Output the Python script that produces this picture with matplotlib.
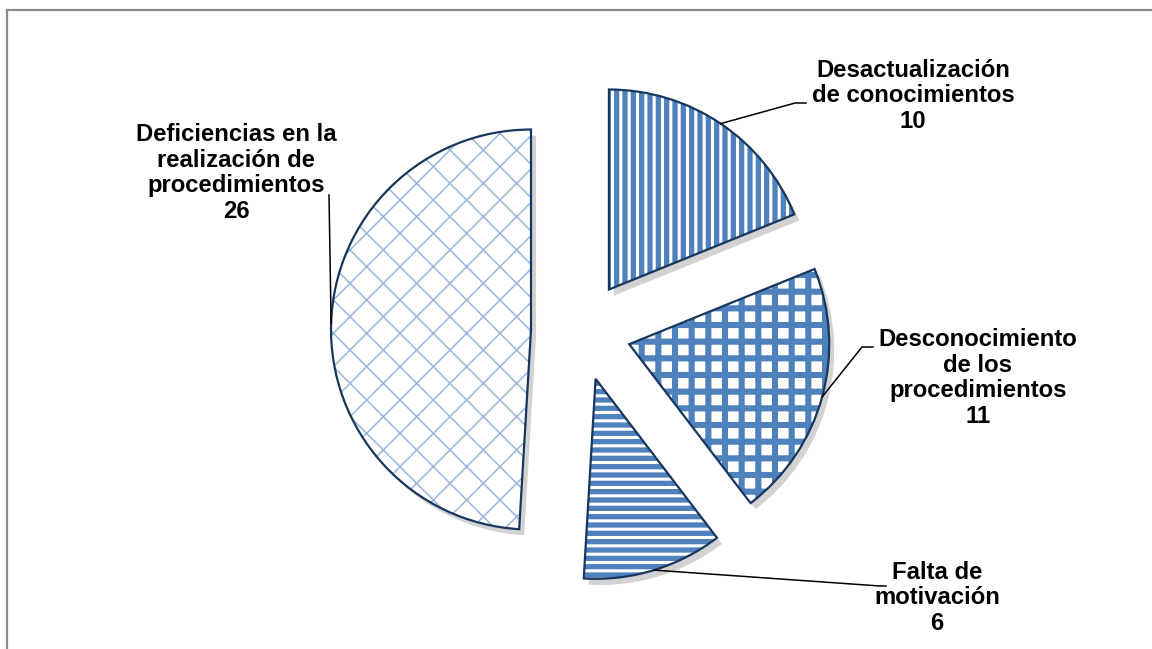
import numpy as np
import matplotlib.pyplot as plt
from matplotlib.lines import Line2D

# causas y número de casos
labels = ["Desactualización\nde conocimientos",
          "Desconocimiento\nde los\nprocedimientos",
          "Falta de\nmotivación",
          "Deficiencias en la\nrealización de\nprocedimientos"]
values = [10, 11, 6, 26]

W, H = 1152, 649
CX, CY, R = 581, 331, 200   # pie centre and radius, in pixels


def px(x, y):
    """pixel position -> data coords (pie radius = 1)"""
    return (x - CX) / R, (CY - y) / R


fig = plt.figure(figsize=(W / 100, H / 100), dpi=100)
ax = fig.add_axes([0, 0, 1, 1])

blue = '#4F81BD'
navy = '#17375E'
# facecolor, hatch colour, hatch, hatch linewidth
fills = [(blue, 'white', '||', 2.2),
         ('white', blue, '+', 4.4),
         (blue, 'white', '--', 2.2),
         ('white', '#9AB4DC', 'x', 1.1)]

explode = [0.25] * len(values)
shadow = dict(ox=0.018, oy=-0.022, facecolor='#7f7f7f', edgecolor='none', alpha=0.35)
wedges, _ = ax.pie(values, explode=explode, startangle=90, counterclock=False,
                   radius=1, center=(0, 0), shadow=shadow)
for w, (fc, hc, hatch, hlw) in zip(wedges, fills):
    w.set_facecolor(fc)
    w.set_edgecolor(hc)
    w.set_linewidth(0)
    w.set_hatch(hatch)
    if hasattr(w, 'set_hatch_linewidth'):
        w.set_hatch_linewidth(hlw)
    else:
        w._hatch_linewidth = hlw

# outlines on top of the hatching
outlines, _ = ax.pie(values, explode=explode, startangle=90, counterclock=False,
                     radius=1, center=(0, 0),
                     wedgeprops=dict(fill=False, edgecolor=navy, linewidth=1.6))

# label block centres and leader line elbows (pixels)
text_pos = [(913, 96), (978, 378), (937, 598), (236, 173)]
leaders = [[(795, 103), (806, 103)],
           [(862, 347), (873, 347)],
           [(880, 586), (886, 586)],
           [(329, 195)]]

for w, lab, v, tp, pts in zip(outlines, labels, values, text_pos, leaders):
    th = np.deg2rad((w.theta1 + w.theta2) / 2)
    ax0 = w.center[0] + w.r * np.cos(th)
    ay0 = w.center[1] + w.r * np.sin(th)
    xs = [ax0] + [px(*p)[0] for p in pts]
    ys = [ay0] + [px(*p)[1] for p in pts]
    ax.plot(xs, ys, color='black', lw=1.1, zorder=1)
    tx, ty = px(*tp)
    ax.text(tx, ty, f"{lab}\n{v}", ha='center', va='center', multialignment='center',
            fontsize=17.2, fontweight='bold', family='Liberation Sans', color='black',
            linespacing=1.15)

ax.set_xlim(-CX / R, (W - CX) / R)
ax.set_ylim(-(H - CY) / R, CY / R)
ax.set_aspect('auto')
ax.axis('off')

# chart area border (top and left edges)
fig.add_artist(Line2D([6.5 / W, 1], [1 - 9.5 / H, 1 - 9.5 / H], color='#8c8c8c', lw=1.6))
fig.add_artist(Line2D([6.5 / W, 6.5 / W], [0, 1 - 9.5 / H], color='#8c8c8c', lw=1.6))

fig.savefig('out.png', dpi=100, facecolor='white')
